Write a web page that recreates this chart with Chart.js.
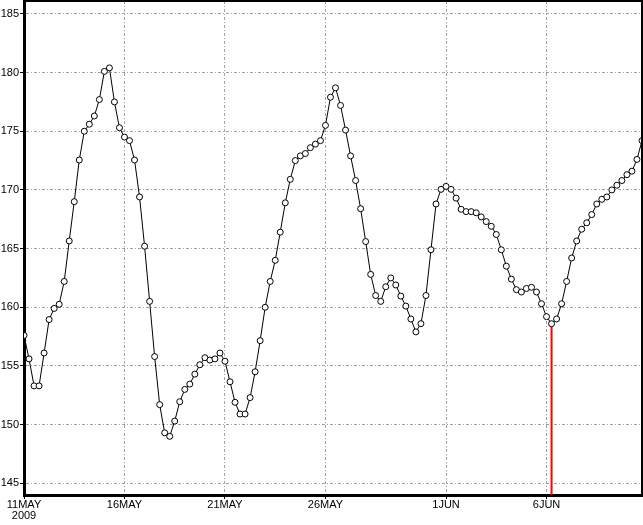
<!DOCTYPE HTML>
<html>
<head>
  <title>Daily series 11 May - 10 Jun 2009</title>
  <script src="https://cdn.jsdelivr.net/npm/chart.js"></script>
  <style>
    body { margin: 0; background: #fff; overflow: hidden; }
    #wrap { width: 643px; height: 525px; position: relative; }
  </style>
</head>
<body>
  <div id="wrap"><canvas id="chart"></canvas></div>
  <script>
    // one value every 6 hours, starting 11 May 2009 00:00
    const stepDays = 0.25;
    const values = [
      157.6, 155.6, 153.3, 153.3, 156.1, 158.95, 159.9, 160.25, 162.2, 165.65,
      169.0, 172.55, 175.0, 175.6, 176.3, 177.7, 180.1, 180.4, 177.5, 175.3,
      174.5, 174.2, 172.55, 169.4, 165.2, 160.5, 155.8, 151.7, 149.3, 149.0,
      150.3, 151.95, 153.0, 153.45, 154.3, 155.1, 155.7, 155.5, 155.6, 156.1,
      155.4, 153.65, 151.9, 150.9, 150.9, 152.3, 154.5, 157.15, 160.0, 162.2,
      164.0, 166.4, 168.9, 170.9, 172.5, 172.9, 173.1, 173.6, 173.9, 174.2,
      175.5, 177.9, 178.7, 177.2, 175.1, 172.9, 170.8, 168.4, 165.6, 162.8,
      161.0, 160.5, 161.75, 162.5, 161.9, 160.95, 160.1, 159.0, 157.9, 158.6,
      161.0, 164.9, 168.8, 170.05, 170.3, 170.05, 169.3, 168.35, 168.15, 168.15,
      168.05, 167.7, 167.3, 166.9, 166.2, 164.9, 163.5, 162.4, 161.5, 161.3,
      161.6, 161.7, 161.3, 160.3, 159.2, 158.6, 159.0, 160.3, 162.2, 164.2,
      165.65, 166.65, 167.2, 167.9, 168.8, 169.2, 169.4, 170.0, 170.4, 170.8,
      171.3, 171.6, 172.6, 174.2
    ];
    const markIndex = 105;   // red marker (6 Jun)
    const tickDays = [0, 5, 10, 15, 21, 26];
    const tickLabels = [['11MAY', '2009'], '16MAY', '21MAY', '26MAY', '1JUN', '6JUN'];
    const yTicks = [145, 150, 155, 160, 165, 170, 175, 180, 185];
    const yMin = 144, yMax = 186.1;

    const points = values.map((v, i) => ({ x: i * stepDays, y: v }));
    const markX = markIndex * stepDays;

    const frame = {
      id: 'frame',
      afterDraw(chart) {
        const { ctx, chartArea: a } = chart;
        ctx.save();
        ctx.strokeStyle = '#000';
        ctx.lineWidth = 2;
        ctx.beginPath();
        ctx.moveTo(a.left, a.top);
        ctx.lineTo(a.right, a.top);
        ctx.lineTo(a.right, a.bottom);
        ctx.stroke();
        ctx.restore();
      }
    };

    const font = { family: '"Liberation Sans", Arial, sans-serif', size: 11, lineHeight: 1 };
    const grid = {
      color: '#a0a0a0',
      lineWidth: 1,
      tickColor: '#000',
      tickLength: 4,
      tickBorderDash: []
    };
    const border = { color: '#000', width: 3, dash: [3, 2, 1, 2] };

    new Chart(document.getElementById('chart'), {
      type: 'line',
      data: {
        datasets: [{
          data: points,
          borderColor: '#000',
          borderWidth: 1,
          tension: 0,
          pointRadius: 3,
          pointBackgroundColor: '#fff',
          pointBorderColor: '#000',
          pointBorderWidth: 1
        }, {
          data: [{ x: markX, y: yMin }, { x: markX, y: values[markIndex] }],
          borderColor: '#ff0000',
          borderWidth: 2,
          pointRadius: 0
        }]
      },
      options: {
        responsive: true,
        maintainAspectRatio: false,
        animation: false,
        layout: { autoPadding: false, padding: { top: 1, right: 1, left: 0, bottom: 0 } },
        plugins: { legend: { display: false }, tooltip: { enabled: false } },
        scales: {
          x: {
            type: 'linear',
            min: 0,
            max: (values.length - 1) * stepDays,
            afterBuildTicks: s => { s.ticks = tickDays.map(v => ({ value: v })); },
            afterFit: s => { s.height = 30; s.paddingLeft = 0; s.paddingRight = 0; },
            ticks: {
              autoSkip: false,
              maxRotation: 0,
              padding: 0,
              color: '#000',
              font,
              callback: v => tickLabels[tickDays.indexOf(v)]
            },
            grid,
            border
          },
          y: {
            min: yMin,
            max: yMax,
            afterBuildTicks: s => { s.ticks = yTicks.map(v => ({ value: v })); },
            afterFit: s => { s.width = 24; s.paddingTop = 0; s.paddingBottom = 0; },
            ticks: { padding: 1, color: '#000', font },
            grid,
            border
          }
        }
      },
      plugins: [frame]
    });
  </script>
</body>
</html>
